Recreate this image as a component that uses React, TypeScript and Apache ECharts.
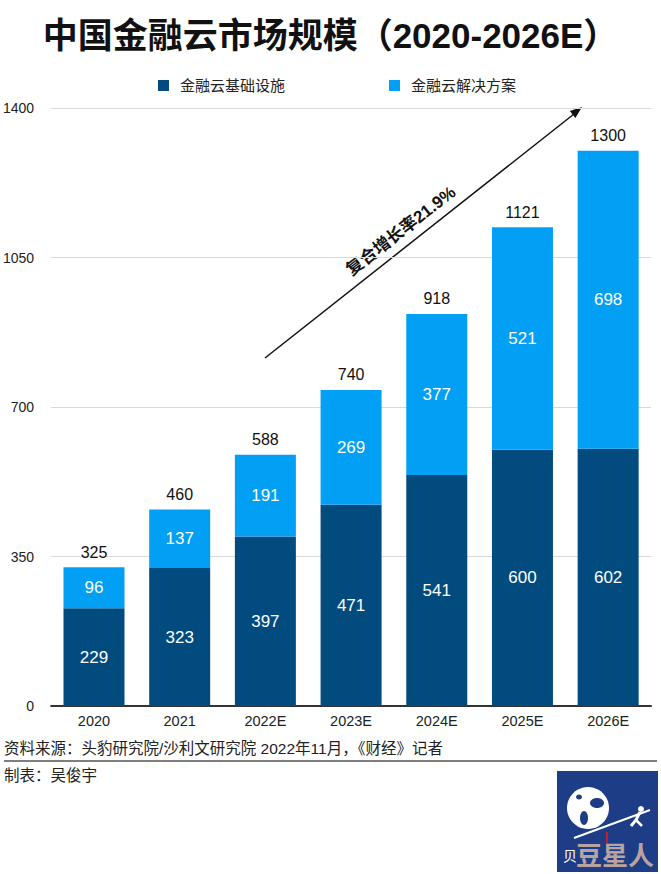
import React, { useEffect, useRef } from "react";
import * as echarts from "echarts";

const categories = ["2020", "2021", "2022E", "2023E", "2024E", "2025E", "2026E"];
const infraValues = [229, 323, 397, 471, 541, 600, 602];
const solutionValues = [96, 137, 191, 269, 377, 521, 698];
const totalValues = [325, 460, 588, 740, 918, 1121, 1300];
const yTicks = { min: 0, max: 1400, interval: 350 };
const seriesNames = ["金融云基础设施", "金融云解决方案"];

const FONT = "'Liberation Sans', 'Noto Sans CJK SC', sans-serif";
const DARK = "#024b7f";
const LIGHT = "#02a0f5";

export default function App() {
  const ref = useRef<HTMLDivElement>(null);
  useEffect(() => {
    if (!ref.current) return;
    const chart = echarts.init(ref.current, undefined, { renderer: "svg" });
    chart.setOption({
      animation: false,
      backgroundColor: "#ffffff",
      textStyle: { fontFamily: FONT },
      title: {
        text: "中国金融云市场规模（2020-2026E）",
        left: "center",
        top: 13,
        textStyle: { fontSize: 35, fontWeight: "bold", color: "#111", fontFamily: FONT },
      },
      legend: {
        top: 73,
        left: 153,
        itemWidth: 11,
        itemHeight: 11,
        itemGap: 104,
        icon: "rect",
        data: seriesNames,
        textStyle: { fontSize: 15, color: "#222", fontFamily: FONT, padding: [0, 0, 0, 6] },
      },
      grid: { left: 50, right: 10, top: 108, bottom: 168 },
      xAxis: {
        type: "category",
        data: categories,
        axisLine: { lineStyle: { color: "#333", width: 2 } },
        axisTick: { show: false },
        axisLabel: { color: "#222", fontSize: 14.5, margin: 8, fontFamily: FONT },
      },
      yAxis: {
        type: "value",
        min: yTicks.min,
        max: yTicks.max,
        interval: yTicks.interval,
        axisLine: { show: false },
        axisTick: { show: false },
        splitLine: { lineStyle: { color: "#d9d9d9", width: 1 } },
        axisLabel: {
          color: "#222",
          fontSize: 14,
          margin: 17,
          fontFamily: FONT,
          formatter: (v: number) => String(v),
        },
      },
      series: [
        {
          name: seriesNames[0],
          type: "bar",
          stack: "total",
          barWidth: 61,
          data: infraValues,
          itemStyle: { color: DARK },
          label: { show: true, position: "inside", color: "#fff", fontSize: 17, fontFamily: FONT },
        },
        {
          name: seriesNames[1],
          type: "bar",
          stack: "total",
          barWidth: 61,
          data: solutionValues,
          itemStyle: { color: LIGHT },
          label: { show: true, position: "inside", color: "#fff", fontSize: 17, fontFamily: FONT },
        },
        {
          name: "total",
          type: "scatter",
          data: totalValues,
          symbolSize: 0,
          silent: true,
          itemStyle: { opacity: 1, color: "#111" },
          label: {
            show: true,
            position: "top",
            distance: 7,
            color: "#111",
            fontSize: 16,
            fontFamily: FONT,
            formatter: (p: any) => String(p.value),
          },
        },
      ],
      graphic: [
        {
          type: "line",
          shape: { x1: 265, y1: 358, x2: 574, y2: 114 },
          style: { stroke: "#111", lineWidth: 1.5 },
        },
        {
          type: "polygon",
          shape: { points: [[582, 107], [575.4, 118.0], [569.8, 111.0]] },
          style: { fill: "#111" },
        },
        {
          type: "text",
          x: 401,
          y: 231,
          rotation: 0.66,
          style: {
            text: "复合增长率21.9%",
            fontSize: 17,
            fontWeight: "bold",
            fill: "#111",
            align: "center",
            verticalAlign: "middle",
            fontFamily: FONT,
          },
        },
        {
          type: "text",
          x: 4,
          y: 748,
          style: {
            text: "资料来源：头豹研究院/沙利文研究院 2022年11月，《财经》记者",
            fontSize: 15.5,
            fill: "#222",
            verticalAlign: "middle",
            fontFamily: FONT,
          },
        },
        {
          type: "line",
          shape: { x1: 4, y1: 761, x2: 657, y2: 761 },
          style: { stroke: "#555", lineWidth: 1.5 },
        },
        {
          type: "text",
          x: 4,
          y: 775,
          style: {
            text: "制表：吴俊宇",
            fontSize: 15.5,
            fill: "#222",
            verticalAlign: "middle",
            fontFamily: FONT,
          },
        },
        {
          type: "group",
          children: [
            { type: "rect", shape: { x: 557, y: 771, width: 101, height: 101 }, style: { fill: "#1d3d86" } },
            { type: "circle", shape: { cx: 588, cy: 808, r: 21 }, style: { fill: "#ffffff" } },
            { type: "ellipse", shape: { cx: 597, cy: 803, rx: 7, ry: 5 }, style: { fill: "#1d3d86" } },
            { type: "ellipse", shape: { cx: 584, cy: 818, rx: 4, ry: 7 }, style: { fill: "#1d3d86" } },
            { type: "ellipse", shape: { cx: 579, cy: 797, rx: 3, ry: 2.5 }, style: { fill: "#1d3d86" } },
            { type: "line", shape: { x1: 574, y1: 838, x2: 650, y2: 810 }, style: { stroke: "#fff", lineWidth: 2 } },
            { type: "circle", shape: { cx: 641, cy: 809, r: 3 }, style: { fill: "#fff" } },
            { type: "polyline", shape: { points: [[640, 812], [636, 820], [631, 826]] }, style: { stroke: "#fff", lineWidth: 3, fill: "none" } },
            { type: "polyline", shape: { points: [[636, 820], [642, 826]] }, style: { stroke: "#fff", lineWidth: 2.5, fill: "none" } },
            { type: "line", shape: { x1: 607, y1: 832, x2: 607, y2: 844 }, style: { stroke: "#c0202a", lineWidth: 2 } },
            {
              type: "text",
              x: 563,
              y: 856,
              style: { text: "贝", fontSize: 14, fill: "#ffffff", verticalAlign: "middle", fontFamily: FONT },
            },
            {
              type: "text",
              x: 576,
              y: 856,
              style: {
                text: "豆星人",
                fontSize: 26,
                fontWeight: "bold",
                fill: "#b9a3a1",
                verticalAlign: "middle",
                fontFamily: FONT,
              },
            },
          ],
        },
      ],
    });
    return () => chart.dispose();
  }, []);
  return (
    <div
      ref={ref}
      style={{ position: "fixed", left: 0, top: 0, width: 661, height: 874, background: "#fff" }}
    />
  );
}
